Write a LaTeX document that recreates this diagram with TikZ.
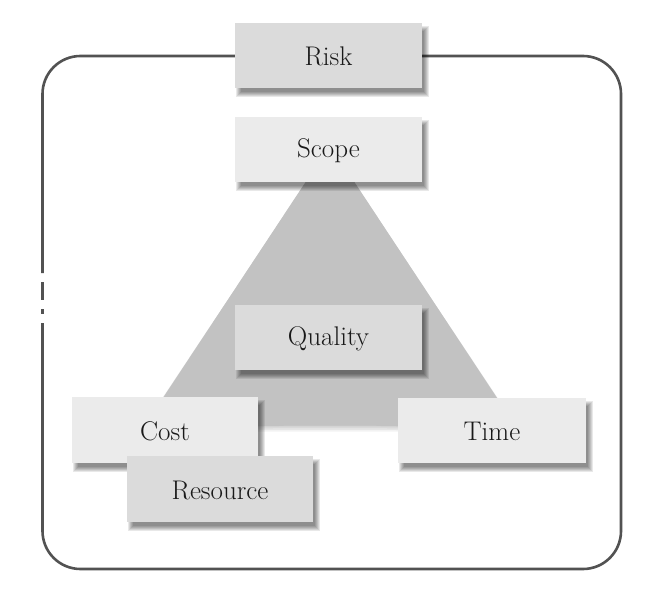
\documentclass[tikz,border=0pt]{standalone}
\usepackage{fontspec}
\begin{document}
\begin{tikzpicture}[x=1pt,y=-1pt,
  frame/.style={draw=black!68, line width=2.6pt},
  boxtext/.style={font=\fontsize{27}{32}\selectfont, text=black!90, inner sep=0pt},
]
\newcommand\mybox[7]{%
  \foreach \i in {0,...,5}{
    \fill[black, opacity=0.09] ({#2+1+\i},{#3+3+\i}) rectangle ({#4+7-\i},{#5+9-\i});
  }
  \fill[fill=#6] (#2,#3) rectangle (#4,#5);
  \node[boxtext] (#1) at ({(#2+#4)/2},{(#3+#5)/2+1}) {#7};
}
\useasboundingbox (0,0) rectangle (660,599);
\fill[white] (0,0) rectangle (660,599);
% frame
\draw[frame, rounded corners=38pt] (42.5,273) -- (42.5,56) -- (621,56) -- (621,569) -- (42.5,569) -- (42.5,323);
\draw[frame] (42.5,282) -- (42.5,300);
\draw[frame] (42.5,309) -- (42.5,314);
% triangle
\foreach \i in {0,...,3}{
  \fill[black, opacity=0.05] (330,146) -- ({142-\i},{430+\i}) .. controls (250,{425+2*\i}) and (410,{425+2*\i}) .. ({518+\i},{430+\i}) -- cycle;
}
\fill[black!24] (330,145) -- (142,430) .. controls (250,424) and (410,424) .. (518,430) -- cycle;
% boxes
\mybox{risk}{235}{23}{422}{88}{black!14}{Risk}
\mybox{scope}{235}{117}{422}{182}{black!8}{Scope}
\mybox{quality}{235}{305}{422}{370}{black!14}{Quality}
\mybox{cost}{72}{397}{258}{463}{black!8}{Cost}
\mybox{time}{398}{398}{586}{463}{black!8}{Time}
\mybox{resource}{127}{456}{313}{522}{black!14}{Resource}
\end{tikzpicture}
\end{document}
